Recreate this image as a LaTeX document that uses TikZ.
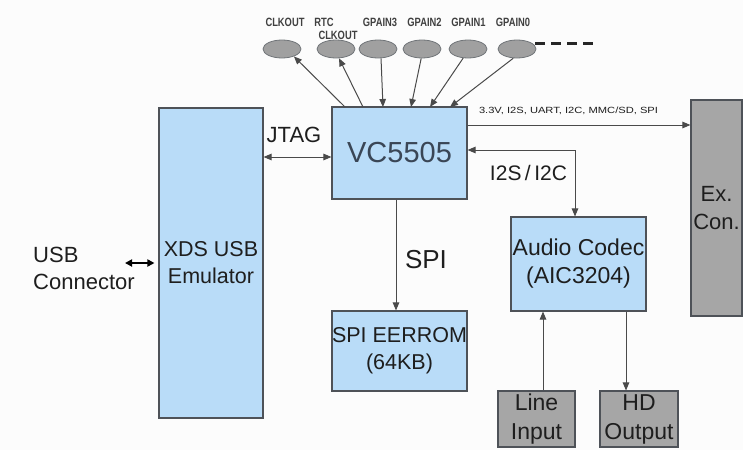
\documentclass[tikz,border=0pt]{standalone}
\usepackage{fontspec}
\setmainfont{Liberation Sans}
\usetikzlibrary{arrows.meta,shapes.geometric,calc}
\definecolor{bgc}{HTML}{FCFCFC}
\definecolor{bluefill}{HTML}{B9DCF8}
\definecolor{grayfill}{HTML}{A6A6A6}
\definecolor{pinfill}{HTML}{A0A0A0}
\definecolor{edgec}{HTML}{4E5258}
\definecolor{linec}{HTML}{4A4A4A}
\definecolor{vctext}{HTML}{3A4656}
\definecolor{txt}{HTML}{1E1E1E}
\begin{document}
\begin{tikzpicture}[x=1pt,y=-1pt,
  bluebox/.style={draw=edgec,fill=bluefill,line width=1.1pt,inner sep=0pt,align=center,text=txt,
     font=\fontsize{22}{27}\selectfont},
  graybox/.style={draw=edgec,fill=grayfill,line width=1.1pt,inner sep=0pt,align=center,text=txt,
     font=\fontsize{23}{29}\selectfont},
  pin/.style={ellipse,draw=edgec!80,fill=pinfill,line width=0.8pt,minimum width=38pt,minimum height=18pt,inner sep=0pt},
  small/.style={inner sep=0pt,text=txt!85,font=\fontsize{12}{13}\selectfont\bfseries},
  lbl/.style={inner sep=0pt,text=txt,font=\fontsize{22}{27}\selectfont,align=center},
  conn/.style={draw=linec,line width=1pt,-{Triangle[length=8pt,width=6.5pt]}},
  conn2/.style={draw=linec,line width=1pt,{Triangle[length=8pt,width=6.5pt]}-{Triangle[length=8pt,width=6.5pt]}}
]
\fill[bgc] (0,0) rectangle (743,450);
\useasboundingbox (0,0) rectangle (743,450);

% boxes
\node[bluebox,minimum width=104pt,minimum height=310pt,font=\fontsize{21.5}{27}\selectfont] (xds) at (211,263) {XDS USB\\Emulator};
\node[bluebox,minimum width=135pt,minimum height=92pt,text=vctext,font=\fontsize{29}{34}\selectfont] (vc) at (399.5,153) {VC5505};
\node[bluebox,minimum width=135pt,minimum height=80pt,font=\fontsize{21.5}{27}\selectfont] (spi) at (399.5,351) {SPI EERROM\\(64KB)};
\node[bluebox,minimum width=135pt,minimum height=94pt,font=\fontsize{23}{28}\selectfont] (audio) at (578.5,264) {Audio Codec\\(AIC3204)};
\node[graybox,minimum width=77pt,minimum height=56pt] (line) at (536.5,419) {Line\\Input};
\node[graybox,minimum width=78pt,minimum height=56pt] (hd) at (639,419) {HD\\Output};
\node[graybox,minimum width=51pt,minimum height=216pt,font=\fontsize{22}{28}\selectfont] (excon) at (716.5,208) {Ex.\\Con.};

% pins
\node[pin] (e1) at (282,49) {};
\node[pin] (e2) at (336,49) {};
\node[pin] (e3) at (378,49) {};
\node[pin] (e4) at (422,49) {};
\node[pin] (e5) at (468,49) {};
\node[pin] (e6) at (517,49) {};
\coordinate (d1) at (535,43);
\coordinate (d2) at (593,43);
\draw[black!85,line width=3pt,dash pattern=on 10pt off 6pt] (d1) -- (d2);

% pin labels
\node[small] (l1) at (285,22.5) {\scalebox{0.78}[1]{CLKOUT}};
\node[small] (l2) at (324,22.5) {\scalebox{0.78}[1]{RTC}};
\node[small] (l2b) at (338,35.5) {\scalebox{0.78}[1]{CLKOUT}};
\node[small] (l3) at (380,22.5) {\scalebox{0.78}[1]{GPAIN3}};
\node[small] (l4) at (424.5,22.5) {\scalebox{0.78}[1]{GPAIN2}};
\node[small] (l5) at (468.5,22.5) {\scalebox{0.78}[1]{GPAIN1}};
\node[small] (l6) at (513,22.5) {\scalebox{0.78}[1]{GPAIN0}};

% pin arrows
\coordinate (p1) at (345,107);
\coordinate (p2) at (363,107);
\coordinate (p3) at (383,107);
\coordinate (p4) at (411,107);
\coordinate (p5) at (430,107);
\coordinate (p6) at (450,107);
\draw[conn] (p1) -- (e1.-32);
\draw[conn] (p2) -- (e2.-72);
\draw[conn] (e3.-72) -- (p3);
\draw[conn] (e4.-95) -- (p4);
\draw[conn] (e5.-118) -- (p5);
\draw[conn] (e6.-112) -- (p6);

% other text
\node[lbl,anchor=west,align=left] (usb) at (33,268) {USB\\Connector};
\node[lbl] (jtag) at (294,135) {JTAG};
\node[lbl,font=\fontsize{26}{30}\selectfont] (spil) at (426,260) {SPI};
\node[lbl,font=\fontsize{21}{25}\selectfont] (i2s) at (528.5,173) {I2S\,/\,I2C};
\node[inner sep=0pt,text=txt] (bus) at (568.5,111) {\resizebox{179pt}{6.5pt}{3.3V, I2S, UART, I2C, MMC/SD, SPI}};

% connectors
\coordinate (jt) at (0,157);
\draw[conn2] (xds.east |- jt) -- (vc.west |- jt);
\coordinate (usbend) at (125,263);
\draw[draw=black,line width=1.8pt,{Triangle[length=7pt,width=7pt]}-{Triangle[length=7pt,width=7pt]}] (usbend) -- ([xshift=-4pt]xds.west);
\coordinate (exl) at (0,125);
\draw[conn] (vc.east |- exl) -- (excon.west |- exl);
\coordinate (i2y) at (0,150);
\coordinate (i2x) at (575,0);
\draw[conn2] (vc.east |- i2y) -| (audio.north -| i2x);
\coordinate (spx) at (396,0);
\draw[conn] (vc.south -| spx) -- (spi.north -| spx);
\coordinate (lnx) at (543,0);
\draw[conn] (line.north -| lnx) -- (audio.south -| lnx);
\coordinate (hdx) at (626,0);
\draw[conn] (audio.south -| hdx) -- (hd.north -| hdx);
\end{tikzpicture}
\end{document}
